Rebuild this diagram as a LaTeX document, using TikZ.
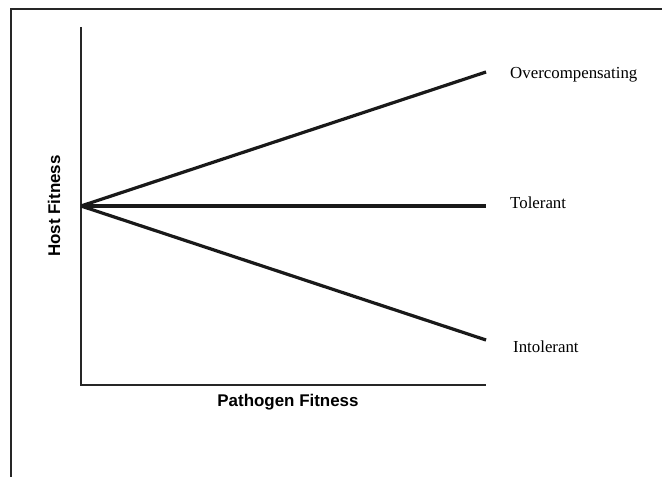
\documentclass[tikz,border=0pt]{standalone}
\usepackage{fontspec}
\setmainfont{Liberation Serif}
\newfontfamily\axisfont{Liberation Sans}
\begin{document}
\begin{tikzpicture}[x=1bp,y=-1bp,
  frameline/.style={line width=1.5bp,draw=black!85},
  axisline/.style={line width=1.1bp,draw=black!85},
  curve/.style={line width=3.2bp,draw=black!90},
  curvelabel/.style={anchor=west,font=\fontsize{16.9}{18}\selectfont,inner sep=0pt},
  axislabel/.style={font=\axisfont\bfseries\fontsize{17}{19}\selectfont,inner sep=0pt}]
\useasboundingbox (0,0) rectangle (662,477);
% outer frame (top and left edges only)
\coordinate (ftl) at (11,9);
\coordinate (ftr) at (662,9);
\coordinate (fbl) at (11,477);
\draw[frameline] (ftr) -- (ftl) -- (fbl);
% axes
\coordinate (ytop) at (81,27);
\coordinate (orig) at (81,385);
\coordinate (xend) at (486,385);
\draw[axisline] (ytop) -- (orig) -- (xend);
% response lines
\coordinate (start) at (81,206);
\coordinate (eover) at (486,72);
\coordinate (etol) at (486,206);
\coordinate (eint) at (486,340);
\draw[curve] (start) -- (eover);
\draw[curve] (start) -- (etol);
\draw[curve] (start) -- (eint);
% labels
\node[curvelabel] (lover) at (510,75) {Overcompensating};
\node[curvelabel] (ltol) at (510,203) {Tolerant};
\node[curvelabel] (lint) at (513,347) {Intolerant};
\node[axislabel] (xlab) at (288,402) {Pathogen Fitness};
\node[axislabel,rotate=90] (ylab) at (54,206) {Host Fitness};
\end{tikzpicture}
\end{document}
